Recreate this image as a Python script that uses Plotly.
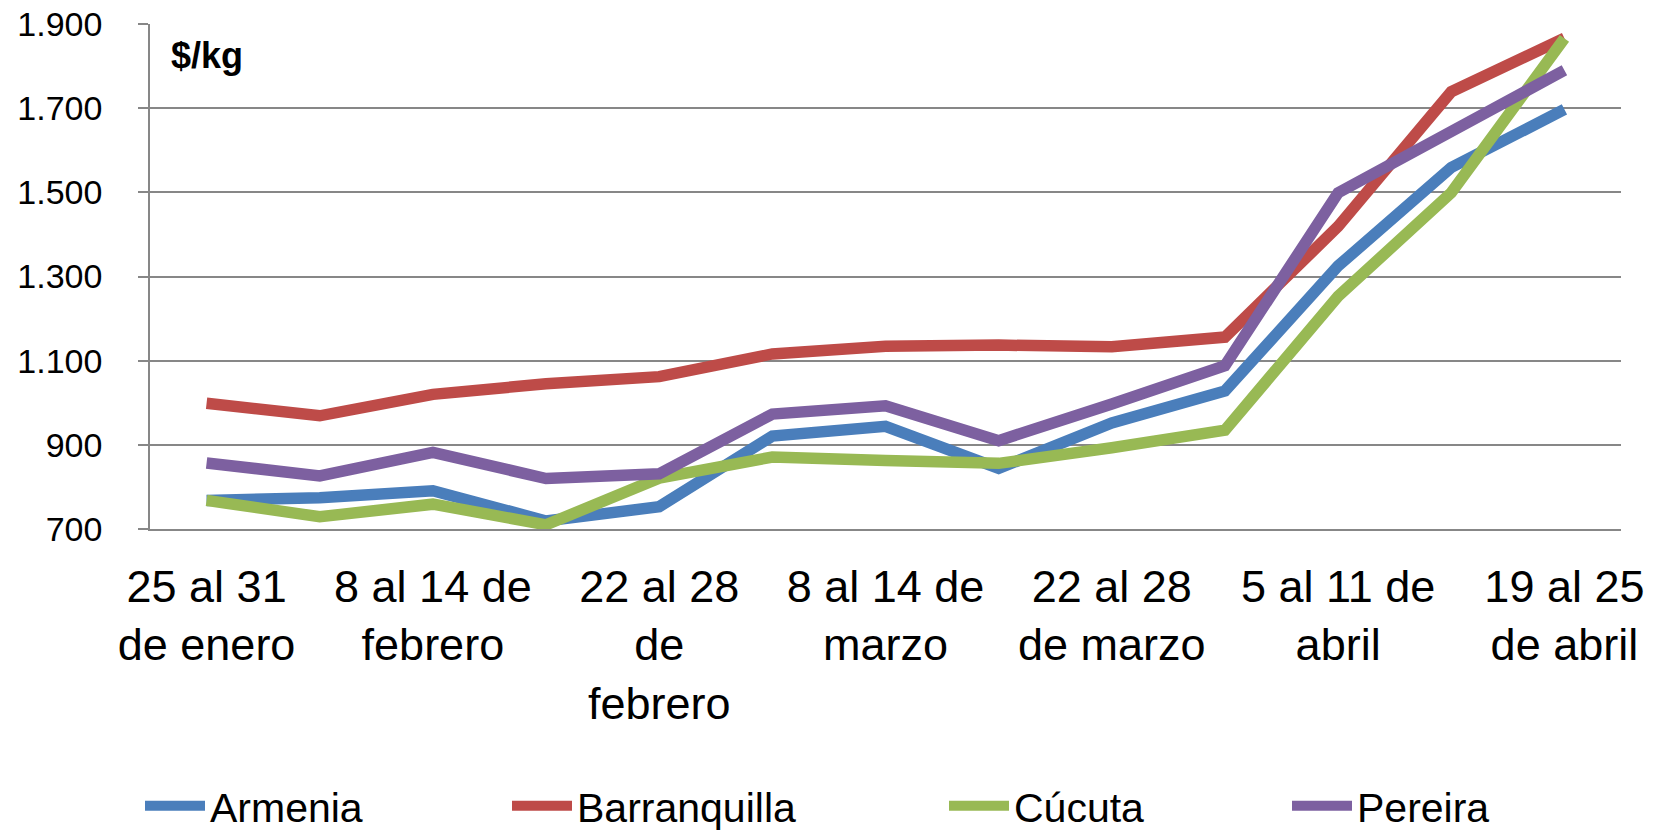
import plotly.graph_objects as go

weeks = ["25 al 31 de enero", "1 al 7 de febrero", "8 al 14 de febrero",
         "15 al 21 de febrero", "22 al 28 de febrero", "1 al 7 de marzo",
         "8 al 14 de marzo", "15 al 21 de marzo", "22 al 28 de marzo",
         "29 de marzo al 4 de abril", "5 al 11 de abril", "12 al 18 de abril",
         "19 al 25 de abril"]
tick_weeks = weeks[::2]
tick_labels = ["25 al 31<br>de enero", "8 al 14 de<br>febrero", "22 al 28<br>de<br>febrero",
               "8 al 14 de<br>marzo", "22 al 28<br>de marzo", "5 al 11 de<br>abril",
               "19 al 25<br>de abril"]

armenia = [768, 774, 791, 719, 753, 921, 944, 844, 952, 1028, 1325, 1559, 1697]
barranquilla = [999, 969, 1020, 1045, 1062, 1116, 1134, 1137, 1133, 1156, 1419, 1739, 1866]
cucuta = [768, 729, 759, 710, 821, 871, 863, 856, 893, 935, 1253, 1499, 1866]
pereira = [857, 826, 882, 820, 831, 973, 993, 910, 997, 1088, 1499, 1648, 1790]

series = [("Armenia", armenia, "#4A7EBB", "legend"),
          ("Barranquilla", barranquilla, "#BE4B48", "legend2"),
          ("Cúcuta", cucuta, "#98B954", "legend3"),
          ("Pereira", pereira, "#7D60A0", "legend4")]

FONT = "Arial, 'Liberation Sans', sans-serif"

fig = go.Figure()
for name, vals, color, lg in series:
    fig.add_trace(go.Scatter(x=weeks, y=vals, name=name, mode="lines",
                             line=dict(color=color, width=11.5), legend=lg))

# body margin is removed in the page (post_script), so figure sits at (0,0)
W, H = 1665, 830
L, T = 150, 24
pw, ph = 1471, 505
R = W - L - pw
B = H - T - ph

def lx(page_px):
    return (page_px - L) / pw

def ly(page_py):
    return (T + ph - page_py) / ph

leg_common = dict(orientation="h", yanchor="middle", xanchor="left",
                  font=dict(family=FONT, size=41, color="black"),
                  bgcolor="rgba(0,0,0,0)", itemwidth=60)
text_starts = [215, 582, 1019, 1362]
legend_names = ["legend", "legend2", "legend3", "legend4"]
leg_layout = {}
for nm, tx in zip(legend_names, text_starts):
    leg_layout[nm] = dict(leg_common, x=lx(tx - 75), y=ly(806))

fig.update_layout(
    width=W, height=H,
    margin=dict(l=L, r=R, t=T, b=B, autoexpand=False),
    paper_bgcolor="white", plot_bgcolor="white",
    separators=",.",
    font=dict(family=FONT, color="black"),
    showlegend=True,
    **leg_layout,
    xaxis=dict(type="category", range=[-0.5, 12.5],
               tickmode="array", tickvals=tick_weeks, ticktext=tick_labels,
               tickangle=0, automargin=False, ticklabeloverflow="allow",
               tickfont=dict(family=FONT, size=45, color="black"),
               showgrid=False, showline=True, linecolor="#878787", linewidth=1.5,
               ticks="", ticklabelstandoff=17),
    yaxis=dict(range=[700, 1900], tickmode="array",
               tickvals=[700, 900, 1100, 1300, 1500, 1700, 1900],
               tickformat=",d", automargin=False, ticklabeloverflow="allow",
               tickfont=dict(family=FONT, size=34, color="black"),
               showgrid=True, gridcolor="#878787", gridwidth=1.5,
               showline=True, linecolor="#878787", linewidth=1.5,
               ticks="outside", ticklen=10, tickcolor="#878787", tickwidth=1.5,
               zeroline=False, ticklabelstandoff=29),
    annotations=[dict(text="<b>$/kg</b>", xref="paper", yref="paper",
                      x=lx(169), y=ly(56), xanchor="left", yanchor="middle",
                      showarrow=False,
                      font=dict(family=FONT, size=36, color="black"))],
)

fig.write_html("out.html",
               config={"displayModeBar": False},
               post_script="document.body.style.margin='0';document.body.style.overflow='hidden';")
